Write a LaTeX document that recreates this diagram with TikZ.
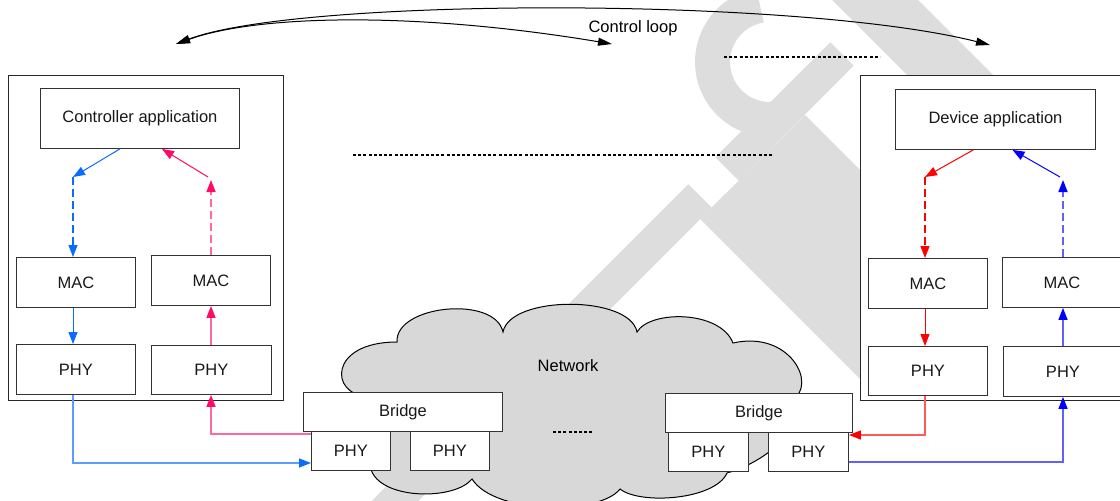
\documentclass[tikz,border=0pt]{standalone}
\usepackage{fontspec}
\setmainfont{Liberation Sans}
\usetikzlibrary{arrows.meta,calc}
\definecolor{wm}{HTML}{DDDDDD}
\definecolor{cloudc}{HTML}{D8D8D8}
\definecolor{cblue}{HTML}{0A6CFF}
\definecolor{cbluel}{HTML}{5C9BFF}
\definecolor{cpink}{HTML}{FF0A66}
\definecolor{cpinkl}{HTML}{FF6A9A}
\definecolor{cred}{HTML}{FF0000}
\definecolor{credl}{HTML}{FF5A5A}
\definecolor{cdb}{HTML}{0000FF}
\definecolor{cdbl}{HTML}{6060FF}
\begin{document}
\begin{tikzpicture}[x=1pt,y=-1pt,
  font=\fontsize{16.5}{19}\selectfont,
  box/.style={draw=black!80, fill=white, line width=0.9pt, inner sep=0pt, anchor=north west, text=black!90},
  outerbox/.style={draw=black!85, fill=white, line width=1.1pt, inner sep=0pt, anchor=north west},
  arr/.style={-{Triangle[length=12pt,width=9pt]}},
  arrc/.style={-{Triangle[length=12pt,width=9pt,color=#1]}},
  ln/.style={line width=1pt},
  elb/.style={line width=1.4pt},
  dsh/.style={line width=1.2pt, dash pattern=on 8pt off 4pt},
  dotline/.style={line width=1.6pt, dash pattern=on 3pt off 2.2pt},
  ctrlloop/.style={line width=1pt, {Triangle[length=14pt,width=8pt]}-{Triangle[length=14pt,width=8pt]}},
]
\useasboundingbox (0,0) rectangle (1120,501);
\clip (0,0) rectangle (1120,501);

% watermark
\fill[wm] (832,0) -- (918,0) -- (1200,282) -- (1114,282) -- cycle;
\draw[wm, line width=35pt] plot[domain=100:280, samples=40] ({770+57.5*cos(\x)}, {62-57.5*sin(\x)});
\draw[wm, line width=33pt] (842,54) -- (727,169);
\draw[wm, line width=33pt] (700,196) -- (340,556);
\fill[wm] (700,219) -- (805,115) -- (985,295) -- (881,400) -- cycle;

% outer boxes
\node[outerbox, minimum width=275, minimum height=325] (lbox) at (8,75) {};
\node[outerbox, minimum width=270, minimum height=325] (rbox) at (860,75) {};

% cloud
\draw[draw=black, fill=cloudc, line width=1pt] (367,396)
  .. controls (330,395) and (328,342) .. (397,342)
  .. controls (395,305) and (495,295) .. (503,332)
  .. controls (510,295) and (630,295) .. (637,332)
  .. controls (650,310) and (720,310) .. (733,343)
  .. controls (790,330) and (818,385) .. (792,400)
  .. controls (805,430) and (765,462) .. (727,473)
  .. controls (715,500) and (640,505) .. (620,489)
  .. controls (600,515) and (495,515) .. (472,479)
  .. controls (455,500) and (385,500) .. (372,472)
  .. controls (360,440) and (360,410) .. cycle;
\node (net) at (568,366) {Network};

% boxes
\node[box, minimum width=199, minimum height=60] (capp) at (40,88) {Controller application};
\node[box, minimum width=119, minimum height=50] (mac1) at (16,257) {MAC};
\node[box, minimum width=119, minimum height=50] (mac2) at (151,255) {MAC};
\node[box, minimum width=119, minimum height=50] (phy1) at (16,344) {PHY};
\node[box, minimum width=120, minimum height=49] (phy2) at (151,345) {PHY};

\node[box, minimum width=200, minimum height=60] (dapp) at (895,89) {Device application};
\node[box, minimum width=119, minimum height=50] (mac3) at (868,258) {MAC};
\node[box, minimum width=119, minimum height=50] (mac4) at (1002,257) {MAC};
\node[box, minimum width=119, minimum height=49] (phy3) at (868,346) {PHY};
\node[box, minimum width=119, minimum height=50] (phy4) at (1003,346) {PHY};

\node[box, minimum width=199, minimum height=39] (br1) at (303,392) {Bridge};
\node[box, minimum width=79, minimum height=39] (phya) at (311,431) {PHY};
\node[box, minimum width=79, minimum height=39] (phyb) at (410,431) {PHY};
\node[box, minimum width=187, minimum height=39] (br2) at (665,393) {Bridge};
\node[box, minimum width=80, minimum height=39] (phyc) at (668,432) {PHY};
\node[box, minimum width=80, minimum height=39] (phyd) at (768,432) {PHY};

% left connectors
\coordinate (lb1) at (73,177);
\coordinate (lp1) at (208,177);
\coordinate (lp2) at (211,180);
\draw[cblue, ln, arr] ($(capp.south west)!0.4!(capp.south east)$) -- (lb1);
\draw[cblue, dsh, arr] (lb1) -- (lb1 |- mac1.north);
\draw[cpink, ln, arr] (lp1) -- ($(capp.south west)!0.61!(capp.south east)$);
\draw[cpinkl, dsh, line width=1.6pt, arrc=cpink] (lp2 |- mac2.north) -- (lp2);
\draw[cblue, ln, arr] (lb1 |- mac1.south) -- (lb1 |- phy1.north);
\draw[cpinkl, elb, arrc=cpink] (lp2 |- phy2.north) -- (lp2 |- mac2.south);
\coordinate (bl) at (73,463);
\draw[cbluel, elb, arrc=cblue] (lb1 |- phy1.south) -- (bl) -- (bl -| phya.west);
\coordinate (pl) at (211,434);
\draw[cpinkl, elb, arrc=cpink] (pl -| phya.west) -- (pl) -- (pl |- phy2.south);

% right connectors
\coordinate (rr1) at (925,177);
\coordinate (rb1) at (1060,177);
\coordinate (rb2) at (1063,180);
\draw[cred, ln, arr] ($(dapp.south west)!0.39!(dapp.south east)$) -- (rr1);
\draw[cred, dsh, arr] (rr1) -- (rr1 |- mac3.north);
\draw[cdb, ln, arr] (rb1) -- ($(dapp.south west)!0.585!(dapp.south east)$);
\draw[cdbl, dsh, line width=1.6pt, arrc=cdb] (rb2 |- mac4.north) -- (rb2);
\draw[cred, ln, arr] (rr1 |- mac3.south) -- (rr1 |- phy3.north);
\draw[cdbl, elb, arrc=cdb] (rb2 |- phy4.north) -- (rb2 |- mac4.south);
\coordinate (rl) at (925,435);
\draw[credl, elb, arrc=cred] (rr1 |- phy3.south) -- (rl) -- (rl -| phyd.east);
\coordinate (bb) at (1063,462);
\draw[cdbl, elb, arrc=cdb] (bb -| phyd.east) -- (bb) -- (rb2 |- phy4.south);

% dotted lines
\coordinate (da1) at (353,155); \coordinate (da2) at (773,155);
\coordinate (db1) at (724,57);  \coordinate (db2) at (880,57);
\coordinate (dc1) at (553,432); \coordinate (dc2) at (594,432);
\draw[dotline] (da1) -- (da2);
\draw[dotline] (db1) -- (db2);
\draw[dotline] (dc1) -- (dc2);

% control loop
\coordinate (c1) at (176,44);
\coordinate (c2) at (612,44);
\coordinate (c3) at (990,45);
\draw[ctrlloop] (c1) .. controls (260,14) and (420,12) .. (c2);
\draw[ctrlloop] (c1) .. controls (300,-3) and (800,-3) .. (c3);
\node (cl) at (633,28) {Control loop};
\end{tikzpicture}
\end{document}
